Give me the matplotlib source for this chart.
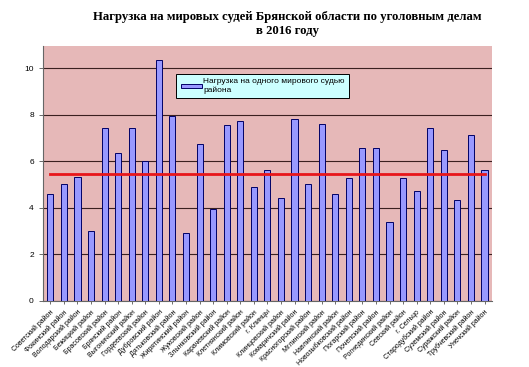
import matplotlib.pyplot as plt
import numpy as np

districts = ["Советский район", "Фокинский район", "Володарский район", "Бежицкий район",
             "Брасовский район", "Брянский район", "Выгоничский район", "Гордеевский район",
             "Дубровский район", "Дятьковский район", "Жирятинский район", "Жуковский район",
             "Злынковский район", "Карачевский район", "Клетнянский район", "Климовский район",
             "г. Клинцы", "Клинцовский район", "Комаричский район", "Красногорский район",
             "Мглинский район", "Навлинский район", "Новозыбковский район", "Погарский район",
             "Почепский район", "Рогнединский район", "Севский район", "г. Сельцо",
             "Стародубский район", "Суземский район", "Суражский район", "Трубчевский район",
             "Унечский район"]
load = [4.57, 5.0, 5.3, 3.0, 7.44, 6.37, 7.44, 6.02, 10.36, 7.96, 2.93, 6.72,
        3.95, 7.57, 7.71, 4.9, 5.6, 4.41, 7.82, 5.0, 7.61, 4.58, 5.26, 6.58,
        6.55, 3.38, 5.26, 4.7, 7.44, 6.5, 4.32, 7.14, 5.64]
avg_load = 5.46

title = "Нагрузка на мировых судей Брянской области по уголовным делам\nв 2016 году"
legend_label = "Нагрузка на одного мирового судью\nрайона"

fig = plt.figure(figsize=(5.29, 3.67), dpi=100)
ax = fig.add_axes([0.081, 0.18, 0.849, 0.695])
ax.set_facecolor('#E6B8B8')

x = np.arange(len(load))
ax.bar(x, load, width=0.45, color='#9999FF', edgecolor='#000066', linewidth=0.7,
       label=legend_label, zorder=3)
ax.plot(x, [avg_load] * len(x), color='#E8161A', lw=2, zorder=4)

ax.set_xlim(-0.55, len(load) - 0.45)
ax.set_ylim(0, 10.95)
ax.set_yticks([0, 2, 4, 6, 8, 10])
ax.yaxis.grid(True, color='#3a2020', lw=0.8, zorder=1)
ax.tick_params(axis='y', labelsize=6, length=3, width=0.6, color='#555555')
ax.tick_params(axis='x', length=2, width=0.6, color='#555555')
ax.set_xticks(x)
ax.set_xticklabels(districts, rotation=45, ha='right', rotation_mode='anchor',
                   fontsize=5.0, family='Liberation Sans')
for lbl in ax.get_yticklabels():
    lbl.set_family('Liberation Sans')
for side in ['top', 'right']:
    ax.spines[side].set_visible(False)
ax.spines['left'].set_color('#666666')
ax.spines['bottom'].set_color('#666666')

leg = ax.legend(loc='upper left', bbox_to_anchor=(0.288, 0.905), fancybox=False,
                framealpha=1, facecolor='#CCFFFF', edgecolor='black',
                prop={'family': 'Liberation Sans', 'size': 6}, handlelength=2.6,
                handleheight=0.35, borderpad=0.5, handletextpad=0.1)
leg.get_frame().set_linewidth(0.7)
leg.set_zorder(5)

fig.text(0.543, 0.97, title, ha='center', va='top', fontsize=9.2,
         fontweight='bold', family='Liberation Serif', linespacing=1.25)

fig.savefig('out.png', dpi=100)
